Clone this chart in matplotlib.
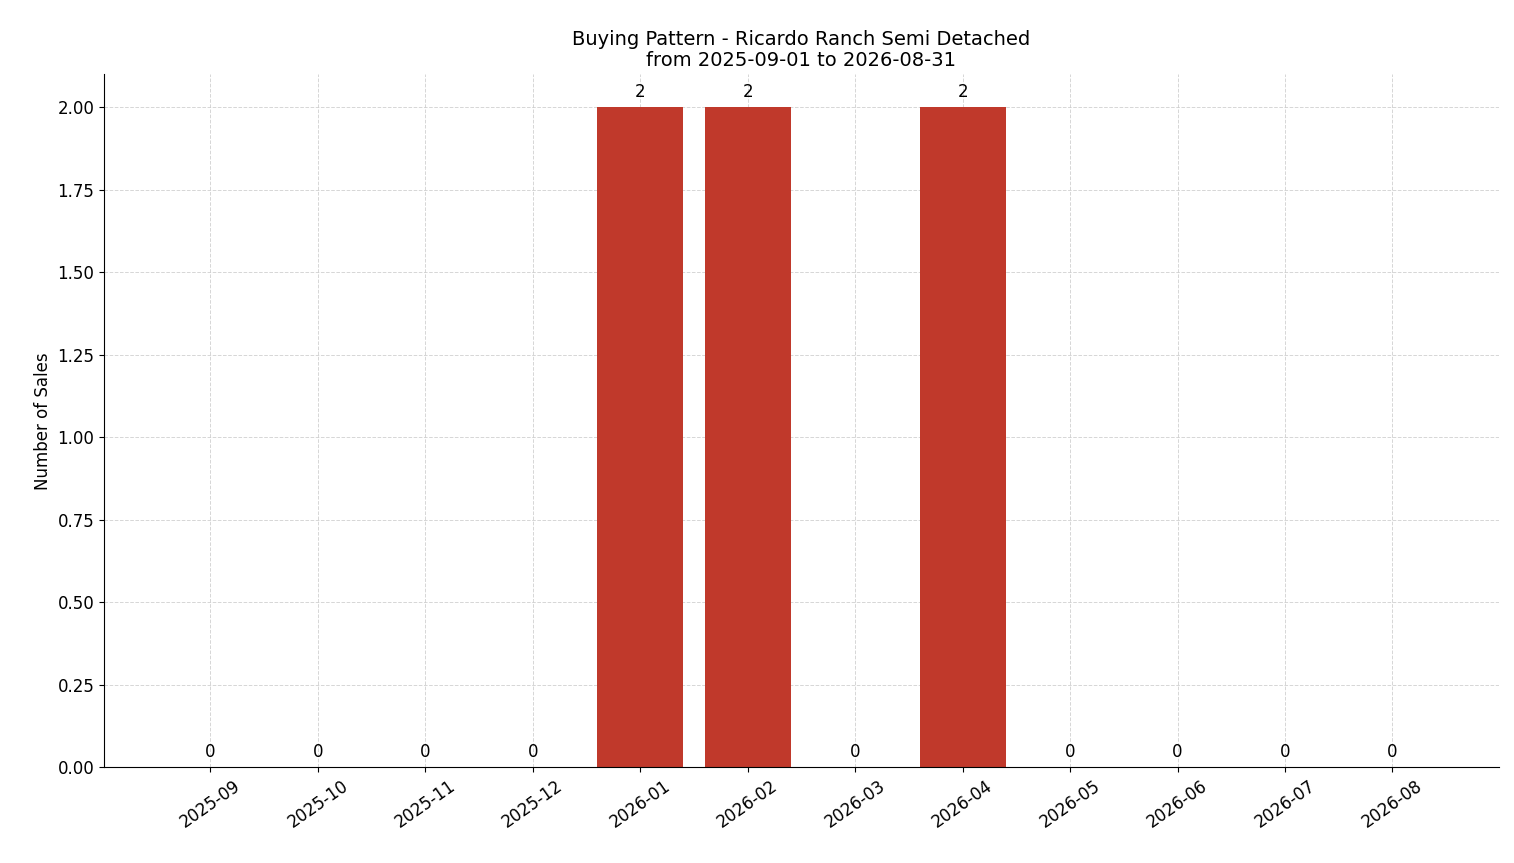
import matplotlib
matplotlib.use("Agg")
import matplotlib.pyplot as plt

months = ['2025-09', '2025-10', '2025-11', '2025-12', '2026-01', '2026-02',
          '2026-03', '2026-04', '2026-05', '2026-06', '2026-07', '2026-08']
sales = [0, 0, 0, 0, 2, 2, 0, 2, 0, 0, 0, 0]

fig, ax = plt.subplots(figsize=(15.14, 8.63), dpi=100)
fig.subplots_adjust(left=0.0687, right=0.990, top=0.914, bottom=0.111)

x = range(len(months))
bars = ax.bar(x, sales, width=0.8, color='#c0392b', zorder=2)
for xi, v in zip(x, sales):
    ax.text(xi, v + 0.02, str(v), ha='center', va='bottom', fontsize=12)

ax.set_xticks(list(x))
ax.set_xticklabels(months, rotation=35, fontsize=12)
ax.tick_params(axis='y', labelsize=12)
ax.set_ylim(0, 2.1)
ax.set_ylabel('Number of Sales', fontsize=12)
ax.set_title('Buying Pattern - Ricardo Ranch Semi Detached\nfrom 2025-09-01 to 2026-08-31',
             fontsize=14, linespacing=1.1)
ax.grid(True, linestyle='--', color='#cccccc', linewidth=0.7, alpha=0.8, zorder=3)
ax.spines['top'].set_visible(False)
ax.spines['right'].set_visible(False)

fig.savefig('out.png', dpi=100)
